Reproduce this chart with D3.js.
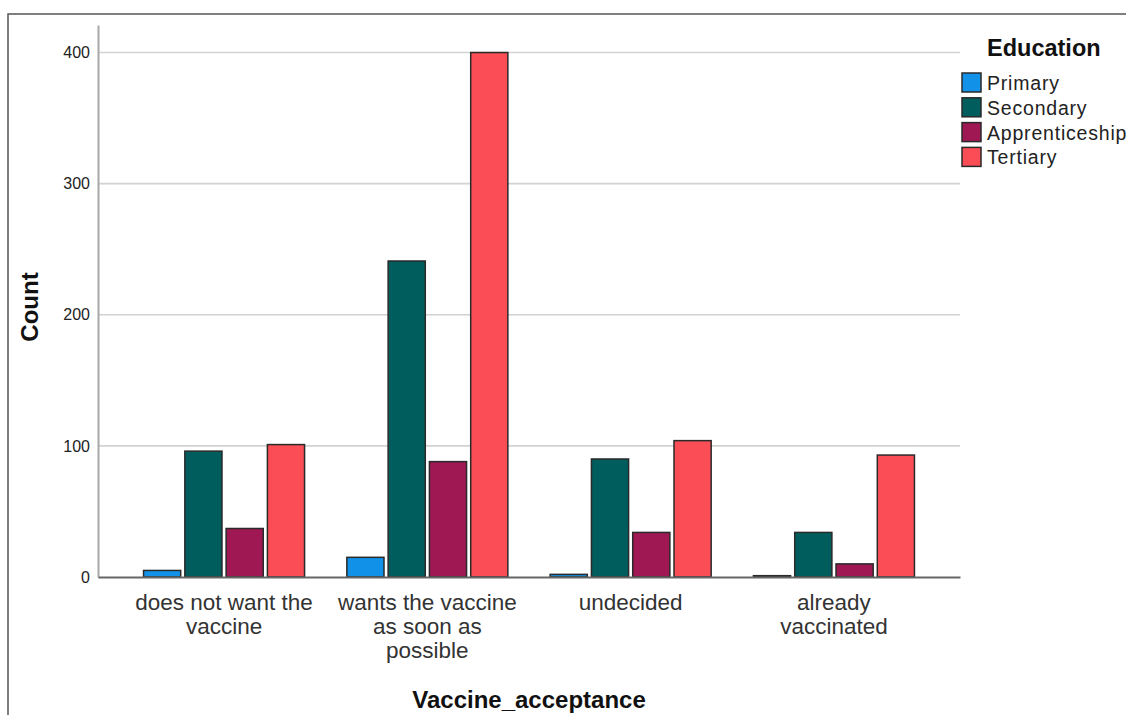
<!DOCTYPE html>
<html>
<head>
<meta charset="utf-8">
<script src="https://cdn.jsdelivr.net/npm/d3@7"></script>
<style>
  html, body { margin: 0; padding: 0; background: #fff; }
  svg { display: block; font-family: "Liberation Sans", Arial, sans-serif; }
</style>
</head>
<body>
<svg id="chart" width="1126" height="715"></svg>
<script>
// ---- data ----
const categories = ["does not want the vaccine", "wants the vaccine as soon as possible", "undecided", "already vaccinated"];
const categoryLines = [["does not want the", "vaccine"], ["wants the vaccine", "as soon as", "possible"], ["undecided"], ["already", "vaccinated"]];
const seriesNames = ["Primary", "Secondary", "Apprenticeship", "Tertiary"];
const primary = [5, 15, 2, 1];
const secondary = [96, 241, 90, 34];
const apprenticeship = [37, 88, 34, 10];
const tertiary = [101, 400, 104, 93];
const yTicks = [0, 100, 200, 300, 400];
const colors = ["#1192e8", "#005d5d", "#9f1853", "#fa4d56"];

const seriesValues = [primary, secondary, apprenticeship, tertiary];
const rows = [];
categories.forEach((c, ci) => seriesNames.forEach((s, si) => rows.push({ cat: c, ser: s, si, v: seriesValues[si][ci] })));

// ---- layout ----
const svg = d3.select("#chart");
const x0 = 98, x1 = 960, yTop = 25, yBot = 577;

// frame
svg.append("path").attr("d", `M8,715 L8,14 L1126,14`).attr("fill", "none").attr("stroke", "#555").attr("stroke-width", 1.5);

const x = d3.scaleBand().domain(categories).range([x0, x1]).paddingInner(0.208).paddingOuter(0.224);
const xs = d3.scaleBand().domain(seriesNames).range([0, x.bandwidth()]).paddingInner(0.1).paddingOuter(0);
const y = d3.scaleLinear().domain([0, 421]).range([yBot, yTop]);

// gridlines
svg.append("g").selectAll("line").data(yTicks.filter(t => t > 0)).join("line")
  .attr("x1", x0).attr("x2", x1).attr("y1", d => y(d)).attr("y2", d => y(d))
  .attr("stroke", "#d2d2d2").attr("stroke-width", 1.6);

// y axis
const yAxis = svg.append("g").attr("transform", `translate(${x0},0)`)
  .call(d3.axisLeft(y).tickValues(yTicks).tickSize(0).tickPadding(8));
yAxis.select(".domain").attr("stroke", "#a8a8a8").attr("stroke-width", 2);
yAxis.selectAll("text").attr("font-size", 16).attr("fill", "#222").attr("font-family", "Liberation Sans, Arial, sans-serif");

// bars
svg.append("g").selectAll("rect").data(rows).join("rect")
  .attr("x", d => x(d.cat) + xs(d.ser))
  .attr("y", d => y(d.v))
  .attr("width", xs.bandwidth())
  .attr("height", d => yBot - y(d.v))
  .attr("fill", d => colors[d.si])
  .attr("stroke", "#2a2a2a").attr("stroke-width", 1.5);

// x axis
const xAxis = svg.append("g").attr("transform", `translate(0,${yBot})`)
  .call(d3.axisBottom(x).tickSize(0).tickFormat(""));
xAxis.select(".domain").attr("stroke", "#666").attr("stroke-width", 1.8);

// category labels
const lbl = svg.append("g").selectAll("text").data(categories).join("text")
  .attr("x", d => x(d) + x.bandwidth() / 2)
  .attr("y", 610)
  .attr("text-anchor", "middle")
  .attr("font-size", 22.5)
  .attr("fill", "#333");
lbl.each(function(d, i) {
  d3.select(this).selectAll("tspan").data(categoryLines[i]).join("tspan")
    .attr("x", x(d) + x.bandwidth() / 2)
    .attr("dy", (t, j) => j === 0 ? 0 : 24)
    .text(t => t);
});

// axis titles
svg.append("text").attr("x", (x0 + x1) / 2).attr("y", 708).attr("text-anchor", "middle")
  .attr("font-size", 24).attr("font-weight", "bold").attr("fill", "#111").text("Vaccine_acceptance");
svg.append("text").attr("transform", `translate(38,307) rotate(-90)`).attr("text-anchor", "middle")
  .attr("font-size", 24).attr("font-weight", "bold").attr("fill", "#111").text("Count");

// legend
const lg = svg.append("g");
lg.append("text").attr("x", 987).attr("y", 56).attr("font-size", 23.5).attr("font-weight", "bold").attr("fill", "#111").text("Education");
const items = lg.selectAll("g.item").data(seriesNames).join("g").attr("class", "item")
  .attr("transform", (d, i) => `translate(962,${73 + i * 24.8})`);
items.append("rect").attr("width", 19).attr("height", 19).attr("fill", (d, i) => colors[i])
  .attr("stroke", "#2a2a2a").attr("stroke-width", 1.5);
items.append("text").attr("x", 25).attr("y", 17).attr("font-size", 19.5).attr("letter-spacing", 0.8)
  .attr("fill", "#222").text(d => d);
</script>
</body>
</html>
